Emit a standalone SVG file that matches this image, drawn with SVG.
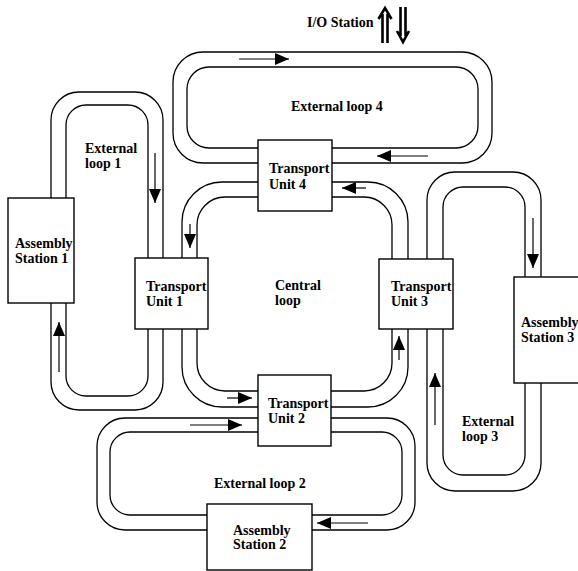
<svg xmlns="http://www.w3.org/2000/svg" width="578" height="571" viewBox="0 0 578 571">
<defs>
<style>
.trk{fill:none;stroke:#000;stroke-width:1.3}
.box{fill:#fff;stroke:#000;stroke-width:1.4}
.arr{fill:none;stroke:#000;stroke-width:1.2;marker-end:url(#ah)}
.io{fill:none;stroke:#000;stroke-width:2.6}
text{font-family:"Liberation Serif","Times New Roman",serif;font-weight:bold;font-size:14px;fill:#000}
</style>
<marker id="ah" markerUnits="userSpaceOnUse" markerWidth="14" markerHeight="12" refX="14" refY="6" orient="auto">
<path d="M0,0 L14,6 L0,12 z" fill="#000"/>
</marker>
</defs>
<rect width="578" height="571" fill="#fff"/>
<g id="tracks">
<rect class="trk" x="173" y="52" width="319" height="111" rx="30"/>
<rect class="trk" x="187" y="67" width="291" height="81" rx="22"/>
<rect class="trk" x="51" y="92" width="112" height="318" rx="28"/>
<rect class="trk" x="66" y="105" width="82" height="291" rx="20"/>
<rect class="trk" x="182" y="182" width="226" height="225" rx="40"/>
<rect class="trk" x="197" y="197" width="195" height="194" rx="28"/>
<rect class="trk" x="427" y="172" width="114" height="319" rx="28"/>
<rect class="trk" x="443" y="187" width="82" height="288" rx="20"/>
<rect class="trk" x="97" y="418" width="318" height="112" rx="28"/>
<rect class="trk" x="110" y="432" width="292" height="83" rx="20"/>
</g>
<g id="connectors">
<line class="arr" x1="239" y1="59" x2="289" y2="59"/>
<line class="arr" x1="428" y1="156" x2="377" y2="156"/>
<line class="arr" x1="366" y1="188" x2="342" y2="188"/>
<line class="arr" x1="155" y1="153" x2="155" y2="203"/>
<line class="arr" x1="59" y1="372" x2="59" y2="322"/>
<line class="arr" x1="190" y1="224" x2="190" y2="248"/>
<line class="arr" x1="227" y1="398" x2="252" y2="398"/>
<line class="arr" x1="399" y1="360" x2="399" y2="336"/>
<line class="arr" x1="533" y1="218" x2="533" y2="268"/>
<line class="arr" x1="435" y1="425" x2="435" y2="373"/>
<line class="arr" x1="190" y1="425" x2="242" y2="425"/>
<line class="arr" x1="368" y1="523" x2="317" y2="523"/>
</g>
<g id="io-station">
<text x="307" y="27">I/O Station</text>
<path class="io" d="M382.5,14 V43 M387.5,14 V43 M378.5,19 L385,8 L391.5,19"/>
<path class="io" d="M400.5,7 V36 M405.5,7 V36 M397,31 L403,42 L409,31"/>
</g>
<g id="loop-labels">
<text x="291" y="111">External loop 4</text>
<text x="85" y="153">External</text>
<text x="85" y="168">loop 1</text>
<text x="275" y="290">Central</text>
<text x="275" y="305">loop</text>
<text x="462" y="426">External</text>
<text x="462" y="441">loop 3</text>
<text x="214" y="488">External loop 2</text>
</g>
<g id="transport-unit-4">
<rect class="box" x="258" y="140" width="74" height="71"/>
<text x="269" y="173">Transport</text>
<text x="269" y="189">Unit 4</text>
</g>
<g id="transport-unit-1">
<rect class="box" x="135" y="258" width="73" height="71"/>
<text x="146" y="291">Transport</text>
<text x="146" y="306">Unit 1</text>
</g>
<g id="transport-unit-3">
<rect class="box" x="379" y="259" width="74" height="70"/>
<text x="391" y="291">Transport</text>
<text x="391" y="306">Unit 3</text>
</g>
<g id="transport-unit-2">
<rect class="box" x="258" y="375" width="73" height="71"/>
<text x="268" y="408">Transport</text>
<text x="268" y="423">Unit 2</text>
</g>
<g id="assembly-station-1">
<rect class="box" x="8" y="198" width="66" height="105"/>
<text x="15" y="248">Assembly</text>
<text x="15" y="263">Station 1</text>
</g>
<g id="assembly-station-3">
<rect class="box" x="514" y="277" width="70" height="106"/>
<text x="521" y="327">Assembly</text>
<text x="521" y="342">Station 3</text>
</g>
<g id="assembly-station-2">
<rect class="box" x="207" y="504" width="105" height="66"/>
<text x="233" y="535">Assembly</text>
<text x="233" y="549">Station 2</text>
</g>
</svg>
